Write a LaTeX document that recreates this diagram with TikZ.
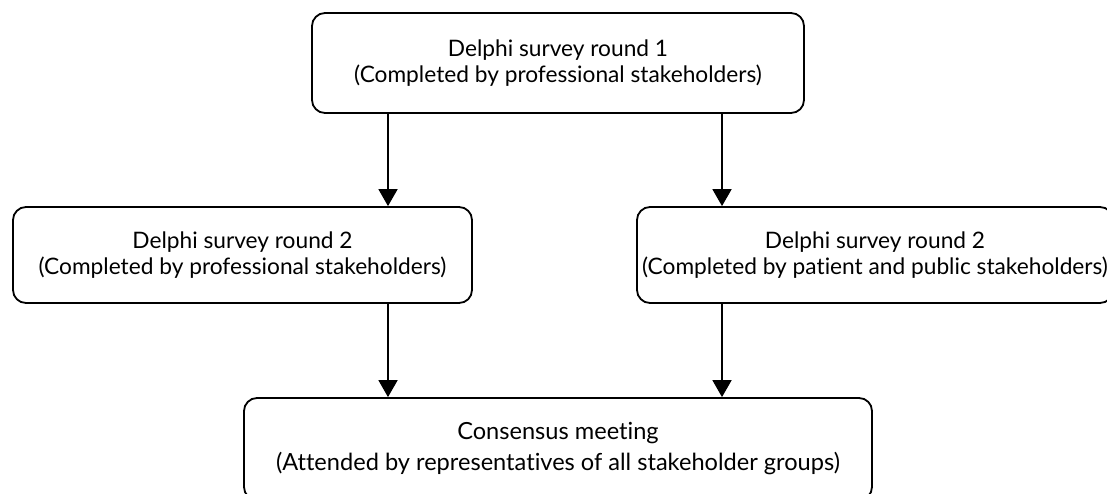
\documentclass[tikz,border=0pt]{standalone}
\usepackage{fontspec}
\setmainfont{Lato}[Ligatures=NoCommon]
\usetikzlibrary{arrows.meta}
\begin{document}
\begin{tikzpicture}[x=1pt,y=-1pt]
\tikzstyle{etape} = [draw,line width=1.8pt,rounded corners=13pt,align=center,inner sep=0pt,font=\fontsize{22.7}{26.5}\selectfont] %boites
\tikzstyle{fleche} = [line width=1.8pt,-{Triangle[width=19pt,length=17pt]}] %fleches

\useasboundingbox (0,0) rectangle (1107,493);

%boites
\draw(558,63)node[etape,minimum width=492pt,minimum height=100pt](R1){Delphi survey round 1\\(Completed by professional stakeholders)};
\draw(242.5,255)node[etape,minimum width=459pt,minimum height=96pt](R2a){Delphi survey round 2\\(Completed by professional stakeholders)};
\draw(875,255)node[etape,minimum width=476pt,minimum height=96pt](R2b){Delphi survey round 2\\(Completed by patient and public stakeholders)};
\draw(558,449)node[etape,minimum width=628pt,minimum height=102pt,font=\fontsize{23.6}{31}\selectfont](CM){Consensus meeting\\(Attended by representatives of all stakeholder groups)};

%abscisses des fleches
\coordinate (xg) at (388,0);
\coordinate (xd) at (722,0);

%fleches
\draw[fleche] (R1.south -| xg)--(R2a.north -| xg);
\draw[fleche] (R1.south -| xd)--(R2b.north -| xd);
\draw[fleche] (R2a.south -| xg)--(CM.north -| xg);
\draw[fleche] (R2b.south -| xd)--(CM.north -| xd);
\end{tikzpicture}
\end{document}
